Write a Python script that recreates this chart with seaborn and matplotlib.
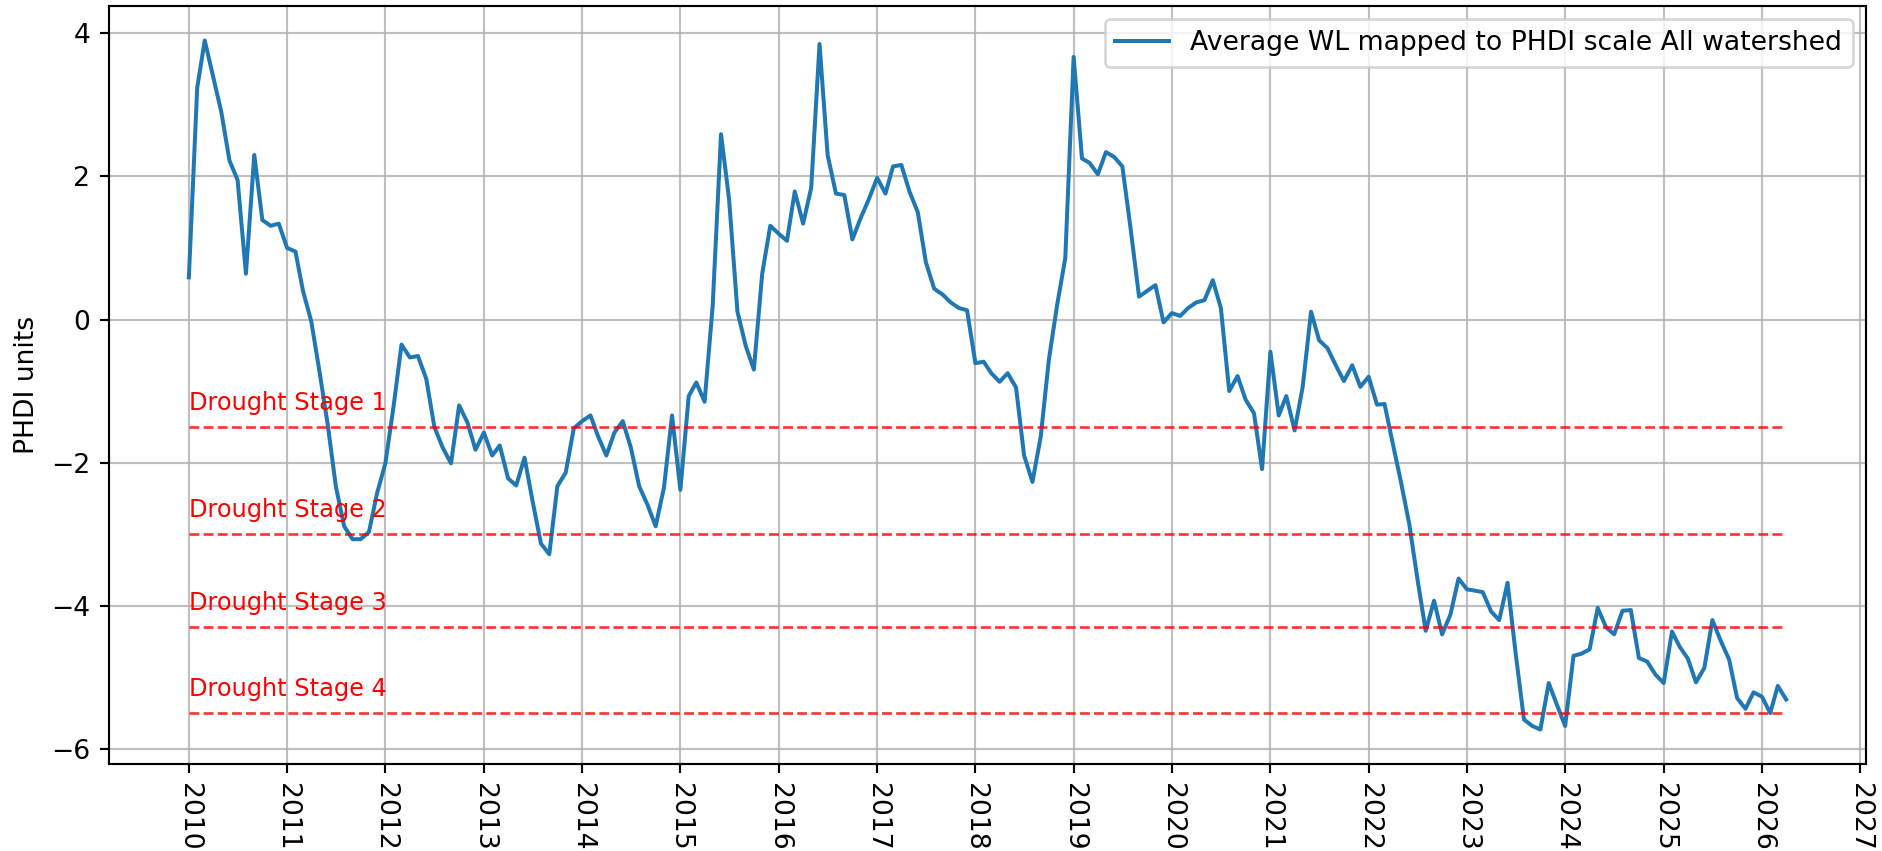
import pandas as pd
import matplotlib
matplotlib.use('Agg')
import matplotlib.pyplot as plt
import matplotlib.dates as mdates
import seaborn as sns

# monthly values, Jan 2010 .. Apr 2026
phdi_values = [
    0.59, 3.24, 3.90, 3.40, 2.91, 2.22, 1.95, 0.64, 2.30, 1.39, 1.31, 1.34,
    1.00, 0.95, 0.40, -0.03, -0.72, -1.47, -2.33, -2.89, -3.07, -3.07, -2.97, -2.43,
    -2.01, -1.20, -0.35, -0.53, -0.51, -0.83, -1.50, -1.79, -2.01, -1.20, -1.44, -1.82,
    -1.58, -1.90, -1.76, -2.22, -2.32, -1.93, -2.54, -3.13, -3.28, -2.33, -2.14, -1.52,
    -1.42, -1.34, -1.63, -1.90, -1.58, -1.42, -1.79, -2.33, -2.59, -2.89, -2.35, -1.34,
    -2.38, -1.07, -0.88, -1.15, 0.19, 2.59, 1.68, 0.11, -0.37, -0.70, 0.64, 1.31,
    1.20, 1.10, 1.79, 1.34, 1.84, 3.85, 2.30, 1.76, 1.74, 1.12, 1.42, 1.68,
    1.98, 1.76, 2.14, 2.16, 1.79, 1.50, 0.80, 0.43, 0.35, 0.24, 0.16, 0.13,
    -0.61, -0.59, -0.75, -0.87, -0.75, -0.95, -1.90, -2.27, -1.63, -0.56, 0.21, 0.86,
    3.67, 2.25, 2.19, 2.03, 2.34, 2.27, 2.14, 1.26, 0.32, 0.40, 0.48, -0.04,
    0.09, 0.05, 0.16, 0.24, 0.27, 0.55, 0.16, -1.00, -0.79, -1.12, -1.31, -2.09,
    -0.45, -1.34, -1.07, -1.55, -0.94, 0.11, -0.29, -0.40, -0.64, -0.86, -0.64, -0.94,
    -0.80, -1.19, -1.18, -1.74, -2.27, -2.86, -3.62, -4.35, -3.93, -4.40, -4.12, -3.62,
    -3.77, -3.79, -3.81, -4.08, -4.20, -3.68, -4.66, -5.59, -5.68, -5.73, -5.08, -5.38,
    -5.68, -4.70, -4.67, -4.61, -4.03, -4.30, -4.40, -4.07, -4.06, -4.73, -4.78, -4.96,
    -5.08, -4.36, -4.57, -4.74, -5.07, -4.87, -4.20, -4.49, -4.75, -5.29, -5.44, -5.21,
    -5.27, -5.50, -5.12, -5.31,
]
dates = pd.date_range('2010-01-01', periods=len(phdi_values), freq='MS')

stage_names = ['Drought Stage 1', 'Drought Stage 2', 'Drought Stage 3', 'Drought Stage 4']
stage_levels = [-1.5, -3.0, -4.3, -5.5]

df = pd.DataFrame({'date': dates, 'phdi': phdi_values})

fig, ax = plt.subplots(figsize=(1882/192, 851/192), dpi=192)
fig.subplots_adjust(left=109/1882, right=1866/1882, top=1-6/851, bottom=1-764/851)

sns.lineplot(data=df, x='date', y='phdi', ax=ax, color='#1f77b4', linewidth=1.5,
             label='Average WL mapped to PHDI scale All watershed')

for name, level in zip(stage_names, stage_levels):
    ax.hlines(level, df['date'].min(), df['date'].max(), colors='red',
              linestyles='--', linewidth=1.0, alpha=0.8)
    ax.text(df['date'].min(), level + 0.24, name, color='red', fontsize=9)

ax.xaxis.set_major_locator(mdates.YearLocator())
ax.xaxis.set_major_formatter(mdates.DateFormatter('%Y'))
plt.setp(ax.get_xticklabels(), rotation=-90, ha='center')
ax.set_xlabel('')
ax.set_ylabel('PHDI units')
ax.grid(True, alpha=0.8)
ax.legend(loc='upper right')

plt.savefig('out.png', dpi=192)
